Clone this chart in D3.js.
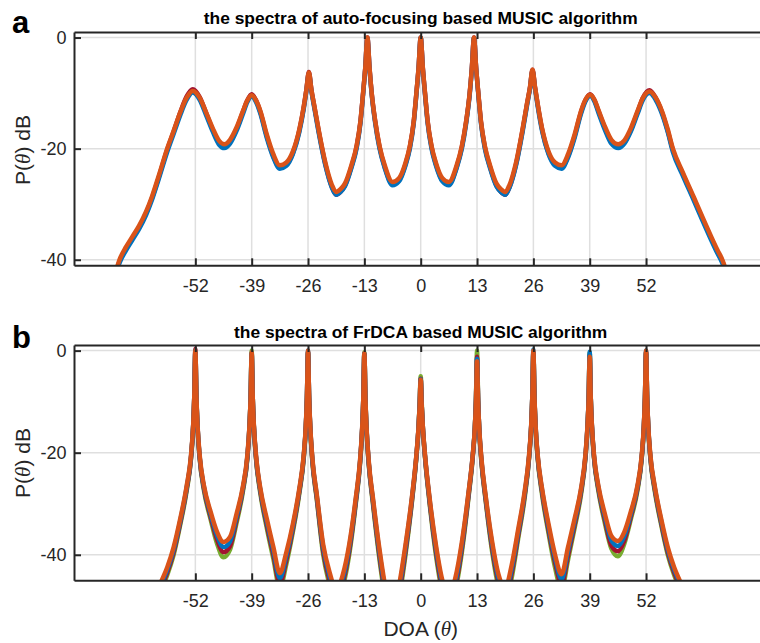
<!DOCTYPE html>
<html>
<head>
<meta charset="utf-8">
<script src="https://cdn.jsdelivr.net/npm/d3@7"></script>
<style>
  body { margin: 0; background: #fff; }
  svg { display: block; font-family: "Liberation Sans", Arial, Helvetica, sans-serif; }
</style>
</head>
<body>
<svg id="chart" width="760" height="643"></svg>
<script>
const xTicks = [-52, -39, -26, -13, 0, 13, 26, 39, 52];
const yTicksA = [-40, -20, 0];
const yTicksB = [-40, -20, 0];

// panel a: DOA grid and spectra (dB)
const doaA = [
  -70.5, -69.5, -68, -66.5, -65, -63.4, -62, -60.5, -58.5, -57, -55.5,
  -54, -52.6, -51, -49.5, -48, -46.5, -45.3, -44, -42.5, -41,
  -40, -39, -38, -37, -35.5, -34, -32.5, -31, -29.5, -28,
  -27, -26.4, -25.8, -25.2, -24.5, -23.5, -22, -20.5, -19.5, -18.5,
  -17.5, -16, -14.8, -13.9, -13.3, -12.8, -12.3, -11.8, -11.3, -10.5,
  -9.5, -8.3, -6.5, -5, -3.5, -2.5, -1.6, -1, -0.5, 0,
  0.5, 1, 1.6, 2.5, 3.5, 5, 6.5, 8.3, 9.5, 10.5,
  11.3, 11.8, 12.3, 12.8, 13.3, 13.9, 14.8, 16, 17.5, 18.5,
  19.5, 20.5, 22, 23.5, 24.5, 25.2, 25.8, 26.4, 27, 28,
  29.5, 31, 32.5, 34, 35.5, 37, 38, 39.1, 40.1, 41,
  42.5, 44, 45.6, 47, 48.5, 50, 51.3, 52.8, 54.2, 55.7,
  57, 58.2, 60.5, 63, 65, 67, 68.5, 69.6, 70.5
];
const specA_red = [
  -42.8, -40.3, -38, -36.1, -34.2, -31.7, -28.9, -25.3, -20.2, -16.9, -13.5,
  -10.6, -9.3, -10.7, -13.6, -16.6, -19, -19.6, -18.8, -16.5, -13.3,
  -11.3, -10.2, -11.3, -13.4, -17.8, -21.4, -23.4, -22.9, -20.8, -16.7,
  -12.6, -9.5, -6.2, -9.5, -12.6, -17, -22.8, -26.9, -28.3, -27.8,
  -26.7, -23.3, -19.7, -15.1, -10.1, -5.6, 0, -5.6, -10.1, -15.1,
  -19.7, -23.3, -26.4, -25.7, -22.8, -19.7, -15.1, -10.1, -5.6, 0,
  -5.6, -10.1, -15.1, -19.7, -22.8, -25.7, -26.4, -23.3, -19.7, -15.1,
  -10.1, -5.6, 0, -5.6, -10.1, -15.1, -19.7, -23.3, -26.7, -27.8,
  -28.3, -26.9, -22.8, -16.7, -12.1, -9.1, -5.8, -9.1, -12.1, -16.5,
  -20.8, -22.9, -23.4, -21.4, -17.8, -13.4, -11.3, -10.2, -11.3, -13.2,
  -16.3, -18.8, -19.6, -18.9, -16.6, -13.5, -10.8, -9.5, -10.8, -13.5,
  -16.8, -20.3, -24.6, -29, -32.6, -36.1, -38.6, -40.3, -42.3
];
const specA_blue = [
  -43.2, -40.6, -38.3, -36.4, -34.5, -32, -29.2, -25.6, -20.6, -17.3, -14,
  -11.2, -9.9, -11.2, -14, -16.9, -19.3, -19.9, -19.1, -16.8, -13.7,
  -11.6, -10.6, -11.6, -13.7, -18.1, -21.6, -23.6, -23.1, -21, -17,
  -12.9, -9.8, -6.5, -9.8, -12.9, -17.3, -23, -27, -28.3, -27.8,
  -26.8, -23.5, -20, -15.4, -10.3, -5.7, -0.1, -5.7, -10.3, -15.4,
  -20, -23.5, -26.6, -25.9, -23, -20, -15.4, -10.3, -5.7, 0,
  -5.7, -10.3, -15.4, -20, -23, -25.9, -26.6, -23.5, -20, -15.4,
  -10.3, -5.7, -0.1, -5.7, -10.3, -15.4, -20, -23.5, -26.8, -27.8,
  -28.3, -27, -23, -17, -12.4, -9.3, -6, -9.3, -12.4, -16.8,
  -21, -23.1, -23.6, -21.6, -18.1, -13.7, -11.5, -10.5, -11.5, -13.5,
  -16.6, -19.1, -19.9, -19.1, -16.9, -13.8, -11.2, -10, -11.2, -13.8,
  -17, -20.6, -24.9, -29.3, -32.9, -36.4, -38.9, -40.6, -42.6
];
const specA_orange = [
  -42.5, -40, -37.7, -35.8, -33.9, -31.4, -28.6, -25, -20, -16.8, -13.5,
  -10.8, -9.6, -10.8, -13.5, -16.3, -18.6, -19.2, -18.4, -16.2, -13.2,
  -11.3, -10.4, -11.3, -13.2, -17.5, -21, -23, -22.5, -20.5, -16.5,
  -12.5, -9.5, -6.3, -9.5, -12.5, -16.8, -22.5, -26.5, -27.8, -27.3,
  -26.3, -23, -19.5, -15, -10, -5.5, 0, -5.5, -10, -15,
  -19.5, -23, -26, -25.3, -22.5, -19.5, -15, -10, -5.5, 0,
  -5.5, -10, -15, -19.5, -22.5, -25.3, -26, -23, -19.5, -15,
  -10, -5.5, 0, -5.5, -10, -15, -19.5, -23, -26.3, -27.3,
  -27.8, -26.5, -22.5, -16.5, -12, -9, -5.8, -9, -12, -16.3,
  -20.5, -22.5, -23, -21, -17.5, -13.2, -11.2, -10.3, -11.2, -13,
  -16, -18.4, -19.2, -18.5, -16.3, -13.3, -10.8, -9.7, -10.8, -13.3,
  -16.5, -20, -24.3, -28.7, -32.3, -35.8, -38.3, -40, -42
];

// panel b: DOA grid and spectra (dB)
const doaB = [
  -61, -60, -58.5, -57, -55.5, -54, -53, -52.5, -52.25, -52,
  -51.75, -51.5, -51, -50, -48.5, -47, -45.5, -44, -42.5, -41,
  -40, -39.5, -39.25, -39, -38.75, -38.5, -38, -37, -35.5, -34,
  -32.5, -31, -29.5, -28, -27, -26.5, -26.25, -26, -25.75, -25.5,
  -25, -24, -22.5, -21, -19.5, -18, -16.5, -15, -14, -13.5,
  -13.25, -13, -12.75, -12.5, -12, -11, -9.5, -8, -6.5, -5,
  -3.5, -2, -1, -0.5, -0.25, 0, 0.25, 0.5, 1, 2,
  3.5, 5, 6.5, 8, 9.5, 11, 12, 12.5, 12.75, 13,
  13.25, 13.5, 14, 15, 16.5, 18, 19.5, 21, 22.5, 24,
  25, 25.5, 25.75, 26, 26.25, 26.5, 27, 28, 29.5, 31,
  32.5, 34, 35.5, 37, 38, 38.5, 38.75, 39, 39.25, 39.5,
  40, 41, 42.5, 44, 45.5, 47, 48.5, 50, 51, 51.5,
  51.75, 52, 52.25, 52.5, 53, 54, 55.5, 57, 58.5, 60,
  61
];
const specB_green = [
  -49, -47, -44, -40, -34.2, -27.5, -21.2, -15, -9.5, -0.3,
  -9.5, -15, -21.2, -27.5, -33, -37.8, -40.5, -39, -33.8, -27.5,
  -21.2, -15, -9.3, 0, -9.3, -15, -21.2, -28, -34.8, -40.8,
  -46.5, -41.8, -35.5, -28, -21.2, -15, -9.5, -0.3, -9.5, -15,
  -21.8, -29, -40, -46, -50, -46.5, -40, -30.2, -22.2, -15.5,
  -9.7, -0.3, -9.7, -15.5, -22.2, -30.2, -41, -49.5, -54, -48.5,
  -40, -29.5, -21, -15.2, -10.5, -5, -10.5, -15.2, -21, -29.5,
  -40, -47.5, -51, -47, -39.5, -29, -21, -15, -9.5, 0,
  -9.5, -15.5, -21.8, -29.5, -39.5, -46.5, -49.5, -44.5, -36.8, -28.8,
  -21.2, -15, -9.3, -0.3, -9.3, -15, -21.2, -28.2, -35.8, -42.5,
  -46.8, -41, -34.8, -28.2, -21.2, -15, -9.5, -0.3, -9.5, -15,
  -21.2, -27.5, -33.8, -38.8, -40.3, -37.8, -33, -27.5, -21.2, -15,
  -9.5, -0.3, -9.5, -15, -21.2, -27.5, -34.2, -40, -44, -47,
  -49
];
const specB_red = [
  -48.5, -46.5, -43.5, -39.5, -33.8, -27.1, -21, -14.8, -9.2, 0.3,
  -9.2, -14.8, -21, -27.1, -32.5, -37, -39.5, -38.3, -33.2, -27.1,
  -21, -14.8, -9.4, -0.6, -9.4, -14.8, -21, -27.6, -34.2, -40,
  -45.6, -41, -35, -27.6, -21, -14.8, -9.2, -0.2, -9.2, -14.8,
  -21.5, -28.7, -39.3, -45.2, -49, -45.6, -39.3, -29.8, -22, -15.3,
  -9.6, -0.6, -9.6, -15.3, -22, -29.8, -40.3, -48.7, -53, -47.7,
  -39.3, -29.2, -20.8, -15.1, -11, -5.5, -11, -15.1, -20.8, -29.2,
  -39.3, -46.7, -50, -46.2, -38.8, -28.7, -20.8, -15.2, -9.8, -1.2,
  -9.8, -15.3, -21.5, -29.2, -38.8, -45.6, -48.5, -43.6, -36.2, -28.3,
  -21, -14.8, -9.2, -0.3, -9.2, -14.8, -21, -27.7, -35.2, -41.5,
  -45.8, -40.2, -34.2, -27.7, -21, -14.8, -9.6, -0.8, -9.6, -14.8,
  -21, -27.1, -33.2, -38.2, -39.3, -37.2, -32.5, -27.1, -21, -14.8,
  -9.2, -0.2, -9.2, -14.8, -21, -27.1, -33.8, -39.5, -43.5, -46.5,
  -48.5
];
const specB_blue = [
  -48, -46, -43, -39, -33.4, -26.8, -20.8, -14.7, -9.1, 0,
  -9.1, -14.7, -20.8, -26.8, -32, -36.2, -38.5, -37.4, -32.6, -26.8,
  -20.8, -14.7, -9.4, -0.4, -9.4, -14.7, -20.8, -27.3, -33.6, -39.2,
  -44.6, -40.2, -34.5, -27.3, -20.8, -14.7, -9.1, 0, -9.1, -14.7,
  -21.3, -28.3, -38.6, -44.3, -48, -44.8, -38.6, -29.4, -21.8, -15.2,
  -9.6, -0.5, -9.6, -15.2, -21.8, -29.4, -39.6, -47.8, -52, -46.8,
  -38.6, -28.8, -20.7, -15.1, -11, -5.6, -11, -15.1, -20.7, -28.8,
  -38.6, -45.8, -49, -45.3, -38.1, -28.3, -20.6, -15.1, -9.9, -1.6,
  -9.9, -15.1, -21.3, -28.8, -38.1, -44.8, -47.5, -42.8, -35.6, -27.9,
  -20.8, -14.6, -9, 0.2, -9, -14.6, -20.8, -27.3, -34.6, -40.7,
  -44.8, -39.3, -33.6, -27.3, -20.8, -14.6, -9.4, -0.2, -9.4, -14.6,
  -20.8, -26.8, -32.6, -37.2, -38.3, -36.3, -32, -26.8, -20.8, -14.7,
  -9.1, 0, -9.1, -14.7, -20.8, -26.8, -33.4, -39, -43, -46,
  -48
];
const specB_orange = [
  -47.5, -45.5, -42.5, -38.5, -33, -26.5, -20.5, -14.5, -9, 0,
  -9, -14.5, -20.5, -26.5, -31.5, -35.5, -37.5, -36.5, -32, -26.5,
  -20.5, -14.5, -9.3, -0.3, -9.3, -14.5, -20.5, -27, -33, -38.5,
  -43.6, -39.5, -34, -27, -20.5, -14.5, -9, 0, -9, -14.5,
  -21, -28, -38, -43.5, -47, -44, -38, -29, -21.5, -15,
  -9.5, -0.5, -9.5, -15, -21.5, -29, -39, -47, -51, -46,
  -38, -28.5, -20.5, -15, -11, -5.7, -11, -15, -20.5, -28.5,
  -38, -45, -48, -44.5, -37.5, -28, -20.5, -15, -10, -2.1,
  -10, -15, -21, -28.5, -37.5, -44, -46.5, -42, -35, -27.5,
  -20.5, -14.5, -9, 0, -9, -14.5, -20.5, -27, -34, -40,
  -43.8, -38.5, -33, -27, -20.5, -14.5, -9.5, -1.2, -9.5, -14.5,
  -20.5, -26.5, -32, -36.3, -37.3, -35.5, -31.5, -26.5, -20.5, -14.5,
  -9, 0, -9, -14.5, -20.5, -26.5, -33, -38.5, -42.5, -45.5,
  -47.5
];

const svg = d3.select("#chart");
const axisColor = "#262626";
const x = d3.scaleLinear().domain([-80, 80]).range([74, 767.4]);

function drawPanel(p) {
    const g = svg.append("g");
    const y = d3.scaleLinear().domain(p.yDomain).range([p.bottom, p.top]);
    const x0 = x.range()[0], x1 = x.range()[1];

    g.append("clipPath")
        .attr("id", "clip-" + p.id)
        .append("rect")
        .attr("x", x0)
        .attr("y", p.top)
        .attr("width", x1 - x0)
        .attr("height", p.bottom - p.top);

    // grid
    g.selectAll(".vgrid")
        .data(xTicks)
        .enter()
        .append("line")
        .attr("x1", d => x(d))
        .attr("x2", d => x(d))
        .attr("y1", p.top)
        .attr("y2", p.bottom)
        .attr("stroke", "#dfdfdf")
        .attr("stroke-width", 1.5);
    g.selectAll(".hgrid")
        .data(p.yTicks)
        .enter()
        .append("line")
        .attr("x1", x0)
        .attr("x2", x1)
        .attr("y1", d => y(d))
        .attr("y2", d => y(d))
        .attr("stroke", "#dfdfdf")
        .attr("stroke-width", 1.5);

    const line = d3.line()
        .x(d => x(d[0]))
        .y(d => y(d[1]))
        .curve(d3.curveMonotoneX);

    const lines = g.append("g").attr("clip-path", `url(#clip-${p.id})`);
    p.series.forEach(s => {
        lines.append("path")
            .datum(p.doa.map((v, i) => [v, s.values[i]]))
            .attr("fill", "none")
            .attr("stroke", s.color)
            .attr("stroke-width", 4.5)
            .attr("stroke-linejoin", "round")
            .attr("d", line);
    });

    const bottomAxis = g.append("g")
        .attr("transform", `translate(0,${p.bottom})`)
        .call(d3.axisBottom(x).tickValues(xTicks).tickSize(-7).tickSizeOuter(0)
            .tickPadding(13.5).tickFormat(d => String(d)));
    const topAxis = g.append("g")
        .attr("transform", `translate(0,${p.top})`)
        .call(d3.axisTop(x).tickValues(xTicks).tickSize(-7).tickSizeOuter(0).tickFormat(""));
    const leftAxis = g.append("g")
        .attr("transform", `translate(${x0},0)`)
        .call(d3.axisLeft(y).tickValues(p.yTicks).tickSize(-7).tickSizeOuter(0)
            .tickPadding(7.5).tickFormat(d => String(d)));

    [bottomAxis, topAxis, leftAxis].forEach(a => {
        a.select(".domain").attr("stroke", axisColor).attr("stroke-width", 2);
        a.selectAll(".tick line").attr("stroke", axisColor).attr("stroke-width", 2);
        a.selectAll(".tick text")
            .attr("fill", axisColor)
            .attr("font-size", "18px")
            .attr("font-family", "'Liberation Sans', Arial, sans-serif");
    });

    g.append("text")
        .attr("x", (x0 + 767.4) / 2)
        .attr("y", p.titleY)
        .attr("text-anchor", "middle")
        .attr("font-size", "17.4px")
        .attr("font-weight", "bold")
        .attr("fill", "#000")
        .text(p.title);

    g.append("text")
        .attr("x", 12)
        .attr("y", p.letterY)
        .attr("font-size", "31px")
        .attr("font-weight", "bold")
        .attr("fill", "#000")
        .text(p.letter);

    const yl = g.append("text")
        .attr("transform", `translate(30,${p.yLabelY}) rotate(-90)`)
        .attr("text-anchor", "middle")
        .attr("font-size", "21px")
        .attr("fill", axisColor);
    yl.append("tspan").text("P(");
    yl.append("tspan")
        .attr("font-family", "'Liberation Serif', 'DejaVu Serif', serif")
        .attr("font-style", "italic")
        .text("θ");
    yl.append("tspan").text(") dB");
}

drawPanel({
    id: "a",
    top: 32,
    bottom: 265.3,
    yDomain: [-41, 1],
    yTicks: yTicksA,
    doa: doaA,
    series: [
        { color: "#A2142F", values: specA_red },
        { color: "#0072BD", values: specA_blue },
        { color: "#D95319", values: specA_orange }
    ],
    title: "the spectra of auto-focusing based MUSIC algorithm",
    titleY: 24,
    letter: "a",
    letterY: 33,
    yLabelY: 150
});

drawPanel({
    id: "b",
    top: 345,
    bottom: 580.3,
    yDomain: [-45, 1.1],
    yTicks: yTicksB,
    doa: doaB,
    series: [
        { color: "#77AC30", values: specB_green },
        { color: "#A2142F", values: specB_red },
        { color: "#0072BD", values: specB_blue },
        { color: "#D95319", values: specB_orange }
    ],
    title: "the spectra of FrDCA based MUSIC algorithm",
    titleY: 337.5,
    letter: "b",
    letterY: 348,
    yLabelY: 463
});

const xl = svg.append("text")
    .attr("x", x(0))
    .attr("y", 636)
    .attr("text-anchor", "middle")
    .attr("font-size", "21px")
    .attr("fill", axisColor);
xl.append("tspan").text("DOA (");
xl.append("tspan")
    .attr("font-family", "'Liberation Serif', 'DejaVu Serif', serif")
    .attr("font-style", "italic")
    .text("θ");
xl.append("tspan").text(")");
</script>
</body>
</html>
